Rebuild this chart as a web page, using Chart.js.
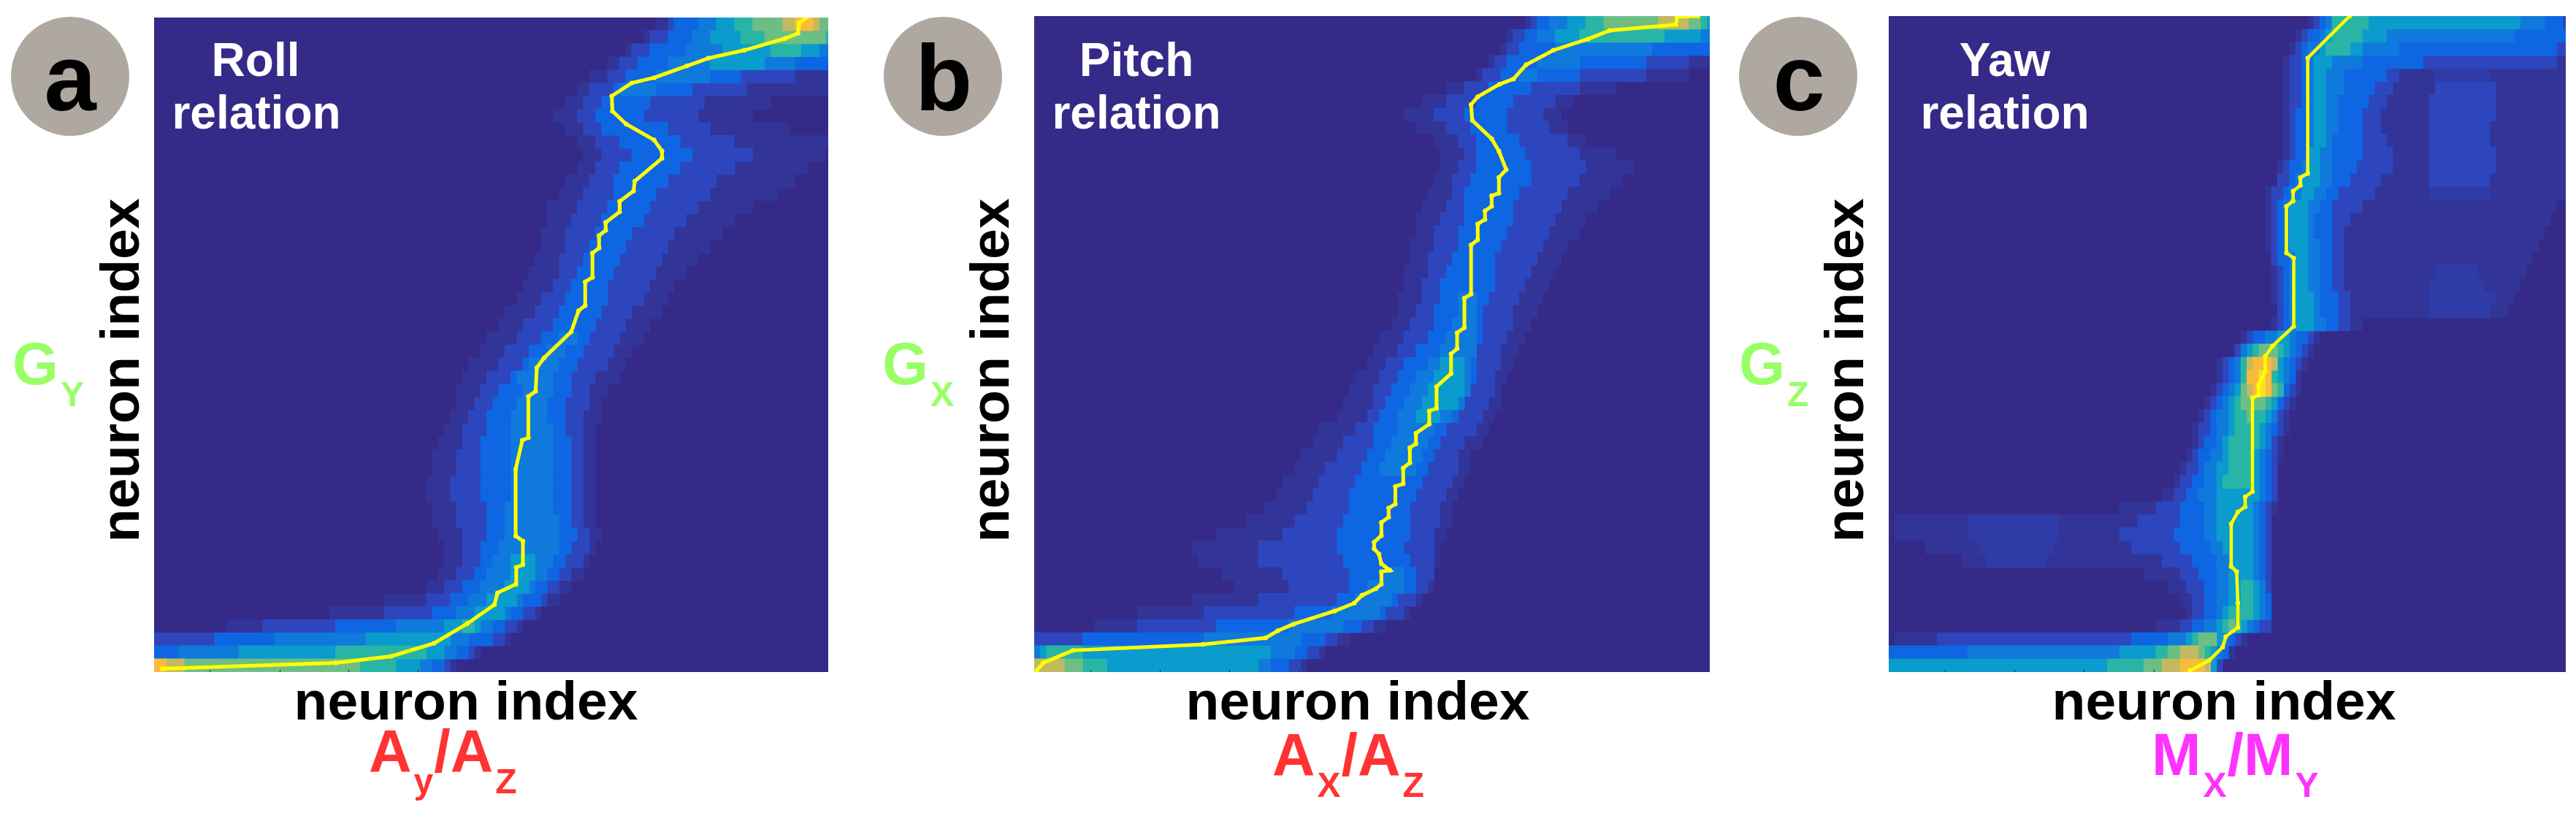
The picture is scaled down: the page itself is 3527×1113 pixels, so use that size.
<!DOCTYPE html>
<html>
<head>
<meta charset="utf-8">
<script src="https://cdn.jsdelivr.net/npm/chart.js@4"></script>
<style>
  html, body { margin: 0; background: #fff; }
  body { position: relative; width: 3527px; height: 1113px; overflow: hidden; font-family: "Liberation Sans", sans-serif; }
  canvas { position: absolute; }
  .badge { position: absolute; width: 162px; height: 163px; border-radius: 50%; background: #aea8a0; }
  .txt { position: absolute; white-space: nowrap; line-height: 1; font-weight: bold; }
  .center { transform: translateX(-50%); }
  .sub { font-size: 48px; vertical-align: -30px; line-height: 0; margin: 0 1px 0 3px; }
  .lab { font-size: 81px; }
</style>
</head>
<body>
<canvas id="rollChart" width="923" height="896" style="left:211px;top:24px"></canvas>
<canvas id="pitchChart" width="925" height="898" style="left:1416px;top:22px"></canvas>
<canvas id="yawChart" width="927" height="898" style="left:2586px;top:22px"></canvas>

<div class="badge" style="left:15px;top:23px"></div>
<div class="badge" style="left:1210px;top:23px"></div>
<div class="badge" style="left:2381px;top:23px"></div>
<div class="txt center" style="left:96px;top:43px;font-size:128px">a</div>
<div class="txt center" style="left:1292px;top:43px;font-size:128px">b</div>
<div class="txt center" style="left:2463px;top:43px;font-size:128px">c</div>

<div class="txt center" style="left:350px;top:50px;font-size:64px;color:#fff">Roll</div>
<div class="txt center" style="left:351px;top:122px;font-size:64px;color:#fff">relation</div>
<div class="txt center" style="left:1556px;top:50px;font-size:64px;color:#fff">Pitch</div>
<div class="txt center" style="left:1556px;top:122px;font-size:64px;color:#fff">relation</div>
<div class="txt center" style="left:2745px;top:50px;font-size:64px;color:#fff">Yaw</div>
<div class="txt center" style="left:2745px;top:122px;font-size:64px;color:#fff">relation</div>

<div class="txt center" style="left:638px;top:922px;font-size:75px">neuron index</div>
<div class="txt center" style="left:1859px;top:922px;font-size:75px">neuron index</div>
<div class="txt center" style="left:3045px;top:922px;font-size:75px">neuron index</div>

<div class="txt" style="left:194px;top:507px;font-size:75px;transform:translate(-30px,-50%) translateX(-50%) rotate(-90deg)">neuron index</div>
<div class="txt" style="left:1385px;top:507px;font-size:75px;transform:translate(-30px,-50%) translateX(-50%) rotate(-90deg)">neuron index</div>
<div class="txt" style="left:2555px;top:507px;font-size:75px;transform:translate(-30px,-50%) translateX(-50%) rotate(-90deg)">neuron index</div>

<div class="txt lab" style="left:17px;top:458px;color:#99ff66">G<span class="sub">Y</span></div>
<div class="txt lab" style="left:1208px;top:458px;color:#99ff66">G<span class="sub">X</span></div>
<div class="txt lab" style="left:2381px;top:458px;color:#99ff66">G<span class="sub">Z</span></div>

<div class="txt lab" style="left:505px;top:988px;color:#ff3333">A<span class="sub">y</span>/A<span class="sub">Z</span></div>
<div class="txt lab" style="left:1742px;top:993px;color:#ff3333">A<span class="sub">X</span>/A<span class="sub">Z</span></div>
<div class="txt lab" style="left:2946px;top:993px;color:#ff33ff">M<span class="sub">X</span>/M<span class="sub">Y</span></div>

<script>
// row positions of the heatmap, top to bottom
const rowCenters = [99,97,95,93,91,89,87,85,83,81,79,77,75,73,71,69,67,65,63,61,59,57,55,53,51,49,47,45,43,41,39,37,35,33,31,29,27,25,23,21,19,17,15,13,11,9,7,5,3,1];
const tickValues = [11.3,22.8,34.2,45.7,57.2,68.7,80.1,91.6,103.1];
const bgColor = '#352a87';
// last colour is only for the faint patches
const levelColors = ['#333498','#2d46bd','#0f66e2','#1079dc','#0a9ccc','#29b5a5','#6cbe85','#c3b95f','#f8bb3d','#f6e21f','#2f3ca8'];

// each row: lo,hi of level 1, lo,hi of level 2, ...
const rollRows = [
  [85,114,87,114,88,114,92,114,95,114,98,114,101,114,106,112,108,111],
  [83,114,84,114,87,114,91,114,94,114,99,114,103,113],
  [80,114,81,114,84,114,90,114,96,112,104,109],
  [77,114,79,114,82,114,87,108,94,103],
  [74,114,77,108,80,99,85,94],
  [72,114,74,100,78,91,79,85],
  [70,104,73,93,76,84],
  [68,101,72,92,75,83],
  [70,107,73,94,76,87],
  [72,114,75,98,79,89],
  [73,113,76,101,81,91],
  [72,110,75,98,79,89],
  [70,108,74,95,78,87],
  [69,105,73,94,78,85],
  [67,101,72,92,77,84],
  [67,98,71,90,76,83],
  [66,96,70,88,75,81],
  [66,94,70,87,74,80],
  [65,92,69,86,73,79],
  [64,90,69,85,72,78],
  [63,88,68,84,71,77],
  [62,87,66,83,70,77],
  [60,86,65,81,69,76],
  [59,84,63,80,68,75],
  [57,83,62,79,66,74,69,72],
  [56,81,60,78,64,73,67,70],
  [54,80,59,77,63,72,64,69],
  [53,79,57,75,61,71,62,68],
  [52,77,56,74,59,71,63,68],
  [52,76,55,74,58,70,62,67],
  [51,76,54,73,57,70,61,67],
  [50,75,53,73,57,70,61,68],
  [49,75,53,73,56,71,61,68],
  [48,75,52,73,56,71,61,68],
  [48,75,52,73,56,71,61,68],
  [47,75,51,73,56,71,61,68],
  [47,75,51,73,56,71,61,68],
  [48,75,52,73,57,71,60,68],
  [48,75,52,73,57,71,60,69],
  [49,76,53,74,57,72,60,69],
  [50,75,53,74,56,71,59,69],
  [50,74,53,73,56,70,58,68,61,65],
  [49,73,52,71,55,69,57,67,61,65],
  [47,71,50,69,53,67,56,65,60,64],
  [40,69,47,67,51,66,54,63,57,62],
  [31,66,40,65,48,63,52,61,55,60],
  [14,63,20,62,32,60,42,58,50,56,53,55],
  [2,61,2,60,12,58,22,54,37,51],
  [2,56,2,55,2,54,6,52,16,50,32,47],
  [2,52,2,51,2,50,2,48,2,46,2,42,2,36,2,7,2,4]
];
const pitchRows = [
  [83,114,84,114,85,114,87,114,90,114,93,113,96,112,105,110],
  [80,114,81,114,83,114,85,114,88,112,92,106],
  [79,114,80,114,82,114,88,104],
  [77,114,78,110,80,103,85,92],
  [75,110,76,103,79,92,82,85],
  [70,98,73,92,77,84],
  [66,91,70,88,75,81],
  [63,89,68,86,73,80],
  [65,90,70,87,74,80],
  [68,93,72,90,75,82],
  [69,98,73,92,75,83],
  [69,101,72,93,75,84],
  [68,99,71,92,74,84],
  [67,97,71,90,73,82],
  [66,95,70,89,73,81],
  [65,93,69,88,73,81],
  [65,92,68,87,72,80],
  [64,90,68,86,72,79],
  [64,89,67,85,71,78],
  [63,88,67,84,70,78],
  [63,87,66,83,69,78],
  [62,86,66,82,69,77,72,75],
  [62,85,65,81,68,76,72,75],
  [61,84,64,81,68,76,71,75],
  [59,83,63,80,67,76,70,75],
  [58,82,62,79,65,75,69,75],
  [57,81,60,79,63,75,67,74,69,73],
  [55,80,59,78,62,75,65,74,68,73],
  [54,79,58,78,61,74,64,74,67,73],
  [53,79,58,77,60,73,63,73,66,72],
  [52,78,57,76,59,72,62,71,65,69],
  [49,77,55,75,58,70,62,68],
  [48,76,53,73,58,69,61,67],
  [46,74,52,72,57,68,60,66],
  [45,74,50,72,56,67,59,65],
  [43,73,49,71,55,66],
  [42,72,48,70,54,65],
  [40,71,47,69,54,64],
  [37,71,45,69,53,64],
  [32,70,43,68,52,64],
  [28,69,39,68,52,63],
  [29,69,39,68,53,64],
  [33,68,43,68,54,65,59,63],
  [35,68,44,67,54,65,57,63],
  [28,66,39,65,52,62,55,61],
  [19,64,30,63,45,60,51,59],
  [12,60,19,58,32,56,44,53],
  [2,54,2,52,10,50,30,46],
  [2,50,2,49,2,47,2,45,3,41,4,10],
  [2,47,2,46,2,44,2,41,2,39,2,14,2,10,2,7]
];
const yawRows = [
  [71,114,72,114,73,113,74,110,75,106,75,81],
  [69,114,70,114,71,114,73,105,74,84,75,80],
  [68,114,69,114,70,112,71,86,73,80,74,78],
  [67,114,68,112,70,90,71,80,72,75],
  [67,114,68,86,70,84,71,77,72,74],
  [67,114,68,85,70,82,71,77,72,74],
  [67,114,68,84,70,81,71,76,72,74],
  [67,114,68,83,69,80,71,76,72,74],
  [67,114,68,83,69,80,71,76,72,74],
  [67,114,68,84,69,80,71,75,72,74],
  [67,114,68,85,69,80,71,75,71,73],
  [66,114,67,85,68,79,70,75,71,73],
  [66,114,66,83,68,78,69,75,70,73],
  [64,114,65,82,67,76,68,74,70,72],
  [64,112,65,80,66,75,67,73,68,71],
  [64,111,65,78,66,75,67,72,68,71],
  [64,110,65,77,66,75,67,72,68,71],
  [64,109,65,77,66,75,67,73,68,71],
  [65,108,65,77,66,75,68,73,69,71],
  [65,107,66,77,67,75,68,73,69,71],
  [65,106,66,77,67,75,68,73,69,71],
  [65,105,66,78,67,76,68,73,69,72],
  [66,104,66,78,67,76,68,73,69,72],
  [65,80,66,78,67,76,68,74,69,72],
  [60,73,61,72,62,71,64,69,66,68],
  [59,72,59,71,60,70,60,69,61,68,62,67,63,66],
  [56,71,57,70,58,69,59,68,60,67,60,66,61,66,61,66,62,65],
  [56,70,57,69,58,69,59,68,60,67,60,66,61,65,61,65,61,65,63,64],
  [55,70,56,69,57,68,58,67,59,67,60,67,60,66,61,65,62,65,63,64],
  [54,69,55,68,56,67,57,66,58,66,59,65,60,64],
  [53,68,54,67,55,66,56,66,58,65,59,64,61,62],
  [52,68,53,67,55,66,56,65,58,64,59,63],
  [52,67,53,66,54,65,56,65,57,64,58,63],
  [51,67,52,66,53,65,55,64,57,63,58,62],
  [50,66,51,66,53,65,54,64,56,63,58,62],
  [49,66,50,66,52,65,54,64,56,63,57,62],
  [47,66,49,66,51,65,53,64,56,63],
  [40,66,46,65,50,64,54,63,56,62],
  [3,65,43,65,50,64,54,63,56,62],
  [3,65,40,65,49,64,54,63,56,62],
  [8,65,42,65,50,64,55,63,57,62],
  [14,65,47,65,52,64,56,63,58,62],
  [44,65,50,65,53,64,56,63,58,62],
  [48,65,51,65,54,64,56,64,58,63,60,62],
  [50,65,52,65,54,65,56,64,58,63,60,62],
  [51,65,52,65,54,65,56,64,57,63,58,62],
  [46,65,50,65,52,63,54,62,56,61,57,60,58,59],
  [3,61,10,60,42,59,48,58,51,57,52,56,53,56],
  [2,59,2,58,2,58,15,57,40,56,46,55,48,54,50,53],
  [2,57,2,57,2,56,2,56,2,56,38,55,44,55,47,55,50,54]
];
// extra patches away from the main band: row, level, lo, hi
const yawIslands = [
  [91,11,92,101],[89,2,92,102],[87,2,91,102],[85,2,91,102],[83,2,91,101],[81,2,91,101],[79,2,91,102],
  [77,2,91,102],[75,2,91,101],[73,11,91,101],[61,11,92,99],[59,11,91,100],[57,11,91,102],[55,11,91,101],
  [23,11,15,30],[21,11,15,30],[19,11,17,29],[17,11,18,28]
];

// yellow ridge lines, x then y
const rollRidgeX = [3.3,32,41.2,48.3,53.8,58.3,58.8,61.8,61.9,63,63,61.8,61.8,62.9,63.9,63.9,65.1,65.3,66.5,71,72.2,73.3,73.3,74.5,74.5,75.6,75.6,76.7,76.7,79,79,81.3,81.5,86,86,84.7,80.1,77.8,77.7,81,84.7,90.1,93.7,99.6,106.4,108.5,108.7,109.9];
const rollRidgeY = [0.5,1.4,2.4,4.4,7.4,10.3,12.1,13.4,16,16.4,20,20.8,31,35.4,35.8,42.1,42.9,46.5,48,52,55.2,56,59.6,60.3,64,64.8,66.7,67.5,68.7,70.3,71.9,73.5,75,78.5,79.6,81.3,83.7,85.7,88,90,90.8,92.6,93.8,95,96.8,97.6,99.2,100];
const pitchRidgeX = [2.4,3.5,8.4,29.8,40.2,42.2,44.8,51.6,54.8,56.1,58.4,59.3,59.3,60.7,59.3,58.9,58.1,58.1,59.3,59.3,60.5,60.5,61.6,61.6,62.9,62.9,64,64,65,65,67.2,67.2,68.4,68.4,70.8,70.8,71.8,71.8,73,73,74.1,74.1,75.2,75.2,76.4,76.4,77.5,77.5,78.7,78.7,79.9,78.7,77.5,74.3,74.1,75.2,78.8,81.1,83.2,87.7,93.4,97,107.9,108.1,111.5];
const pitchRidgeY = [0.2,1.4,3.3,4.2,5.2,6.3,7.3,9.3,10.5,11.7,12.7,13.4,15.3,15.5,16.5,18,18.8,19.8,20.8,22.8,23.6,25,25.6,28.3,28.7,31.1,31.9,34.2,34.8,36.4,37.8,39.8,40.2,43.5,45.5,48.5,49.3,51.7,52.5,57,57.6,65.1,65.9,68.3,69,70.3,71,72.6,73,75.4,76.6,79.4,81.3,84.1,86.5,87.7,89.6,90.4,92.6,94.8,96.5,97.8,98.7,99.9,100];
const yawRidgeX = [51.6,54.8,57,57.5,59.5,59.5,59.3,58.4,58.4,59.5,60.7,60.7,61.9,61.9,62.9,62.9,64,64,65.2,68.7,68.7,67.5,67.5,68.6,68.6,69.8,69.8,71,71,77.9];
const yawRidgeY = [0.2,1.8,3.8,5.4,6.8,10.5,15.3,16.1,22.6,24.4,25.2,26.7,27.5,41.8,42.2,43.8,45.8,48.1,49.7,52.7,63.1,63.9,71,71.8,73.3,74.2,75.4,76,93.6,100];

function bandDatasets(rows, islands) {
  const sets = levelColors.map((c, i) => ({
    type: 'bar', indexAxis: 'y', label: 'level ' + (i + 1), data: [],
    backgroundColor: c, borderWidth: 0, grouped: false,
    barPercentage: 1, categoryPercentage: 1, order: 20 - i
  }));
  rows.forEach((r, ri) => {
    for (let j = 0; j < r.length; j += 2) {
      sets[j / 2].data.push({ y: rowCenters[ri], x: [r[j], r[j + 1]] });
    }
  });
  islands.forEach(p => sets[p[1] - 1].data.push({ y: p[0], x: [p[2], p[3]] }));
  return sets.filter(s => s.data.length);
}

// dark background of the image
const plotBackground = {
  id: 'plotBackground',
  beforeDraw(chart) {
    const a = chart.chartArea;
    chart.ctx.fillStyle = bgColor;
    chart.ctx.fillRect(a.left, a.top, a.width, a.height);
  }
};

function makePanel(id, rows, islands, ridgeX, ridgeY, lineWidth) {
  new Chart(document.getElementById(id), {
    type: 'bar',
    data: {
      datasets: bandDatasets(rows, islands).concat([{
        type: 'line', label: 'ridge', order: 0,
        data: ridgeX.map((x, i) => ({ x: x, y: ridgeY[i] })),
        borderColor: '#ffff00', backgroundColor: '#ffff00',
        borderWidth: lineWidth, pointRadius: 3.2, pointBorderWidth: 0, tension: 0, fill: false
      }])
    },
    options: {
      responsive: false, animation: false, devicePixelRatio: 1,
      layout: { padding: 0, autoPadding: false },
      plugins: { legend: { display: false }, tooltip: { enabled: false } },
      scales: {
        x: {
          type: 'linear', min: 2, max: 113.5, offset: false,
          afterFit(s) { s.height = 0; },
          afterBuildTicks(s) { s.ticks = tickValues.map(v => ({ value: v })); },
          ticks: { display: false },
          border: { display: false },
          grid: { offset: false, drawOnChartArea: false, drawTicks: true, tickLength: -3, tickWidth: 1, tickColor: '#222', z: 1 }
        },
        y: { type: 'linear', min: 0, max: 100, offset: false, display: false }
      }
    },
    plugins: [plotBackground]
  });
}

makePanel('rollChart', rollRows, [], rollRidgeX, rollRidgeY, 5);
makePanel('pitchChart', pitchRows, [], pitchRidgeX, pitchRidgeY, 5);
makePanel('yawChart', yawRows, yawIslands, yawRidgeX, yawRidgeY, 4.5);
</script>
</body>
</html>
